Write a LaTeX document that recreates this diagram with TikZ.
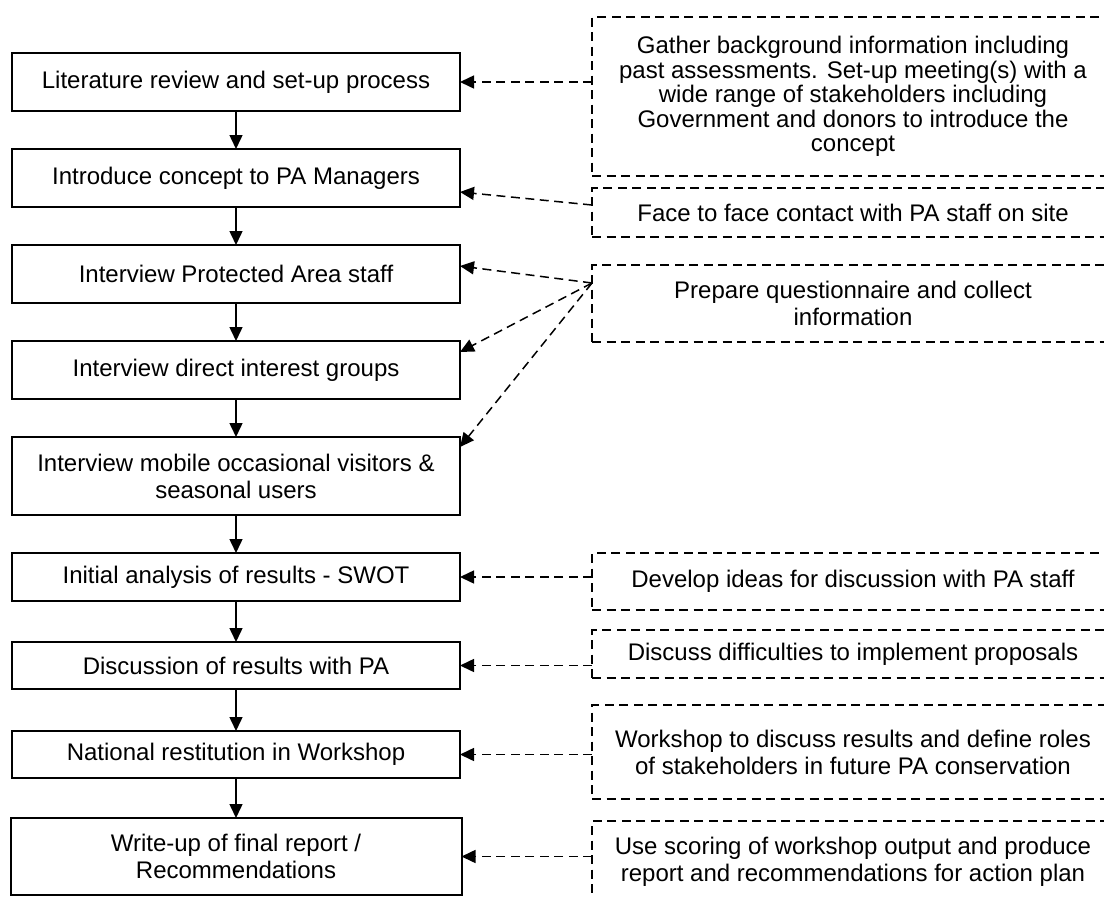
\documentclass[tikz,border=0pt]{standalone}
\usepackage{fontspec}
\setmainfont{Liberation Sans}
\usepackage{tikz}
\usetikzlibrary{arrows.meta, positioning}

\begin{document}
\begin{tikzpicture}[
        x=1pt, y=-1pt,
        font=\fontsize{24}{27}\selectfont,
        stage/.style={rectangle, minimum width=448pt, minimum height=58pt, inner sep=2pt, outer sep=0pt, align=center, draw=black, line width=2pt},
        note/.style={rectangle, anchor=north west, minimum width=522pt, inner sep=2pt, outer sep=0pt, align=center, draw=black, line width=1.6pt, dash pattern=on 9pt off 5.5pt},
        arrow/.style={line width=1.5pt, -{Triangle[width=13pt,length=14pt]}},
        link/.style={line width=1.5pt, dash pattern=on 9pt off 5.5pt, -{Triangle[width=13pt,length=14pt]}}
    ]

    \useasboundingbox (0,0) rectangle (1104,897);
    \clip (0,0) rectangle (1104,897);

    % main steps
    \node (lit) [stage] at (236,82) {Literature review and set-up process};
    \node (intro) [stage, below=38pt of lit] {Introduce concept to PA Managers};
    \node (staff) [stage, below=38pt of intro] {Interview Protected Area staff};
    \node (groups) [stage, below=38pt of staff] {Interview direct interest groups};
    \node (mobile) [stage, minimum height=78pt, below=38pt of groups] {Interview mobile occasional visitors \&\\seasonal users};
    \node (swot) [stage, minimum height=48pt, below=38pt of mobile] {Initial analysis of results - SWOT};
    \node (results) [stage, minimum height=47pt, below=41pt of swot] {Discussion of results with PA};
    \node (national) [stage, minimum height=47pt, below=42pt of results] {National restitution in Workshop};
    \node (writeup) [stage, minimum width=451pt, minimum height=77pt, below=40pt of national] {Write-up of final report /\\Recommendations};

    % side notes
    \node (gather) [note, minimum height=159pt, font=\fontsize{24}{24.5}\selectfont] at (592,17) {Gather background information including\\past assessments. Set-up meeting(s) with a\\wide range of stakeholders including\\Government and donors to introduce the\\concept};
    \node (face) [note, minimum height=49pt] at (592,188) {Face to face contact with PA staff on site};
    \node (quest) [note, minimum height=77pt] at (592,265) {Prepare questionnaire and collect\\information};
    \node (ideas) [note, minimum height=57pt] at (592,553) {Develop ideas for discussion with PA staff};
    \node (diffic) [note, minimum height=48pt] at (592,630) {Discuss difficulties to implement proposals};
    \node (roles) [note, minimum height=94pt] at (592,705) {Workshop to discuss results and define roles\\of stakeholders in future PA conservation};
    \node (scoring) [note, minimum height=82pt] at (592,821) {Use scoring of workshop output and produce\\report and recommendations for action plan};

    \draw [arrow] (lit) -- (intro);
    \draw [arrow] (intro) -- (staff);
    \draw [arrow] (staff) -- (groups);
    \draw [arrow] (groups) -- (mobile);
    \draw [arrow] (mobile) -- (swot);
    \draw [arrow] (swot) -- (results);
    \draw [arrow] (results) -- (national);
    \draw [arrow] (national) -- (writeup);

    \draw [link] (gather.west |- lit.east) -- (lit.east);
    \draw [link] ([yshift=7.5pt]face.west) -- ([yshift=-14pt]intro.east);
    \draw [link] ([yshift=20.5pt]quest.west) -- ([yshift=8pt]staff.east);
    \draw [link] ([yshift=20.5pt]quest.west) -- ([yshift=18pt]groups.east);
    \draw [link] ([yshift=20.5pt]quest.west) -- ([yshift=29pt]mobile.east);
    \draw [link] (ideas.west |- swot.east) -- (swot.east);
    \draw [link] (diffic.west |- results.east) -- (results.east);
    \draw [link] (roles.west |- national.east) -- (national.east);
    \draw [link] (scoring.west |- writeup.east) -- (writeup.east);

\end{tikzpicture}
\end{document}
